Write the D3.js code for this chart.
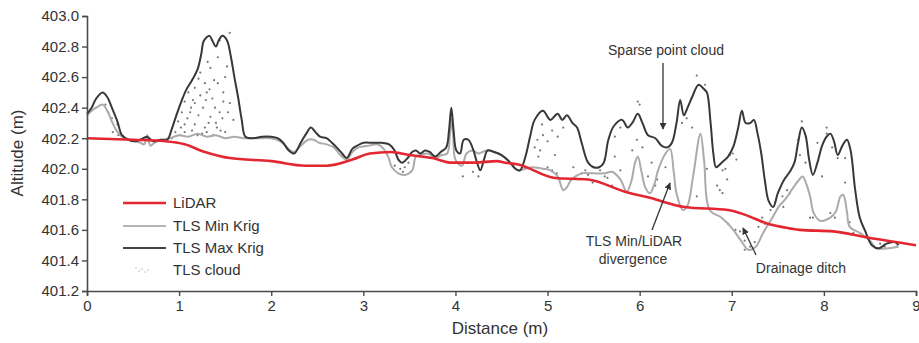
<!DOCTYPE html>
<html><head><meta charset="utf-8">
<script src="https://cdn.jsdelivr.net/npm/d3@7"></script>
<style>html,body{margin:0;padding:0;background:#fff;}svg{display:block;font-family:"Liberation Sans",Arial,sans-serif;}</style>
</head><body>
<svg id="c" width="919" height="343"></svg>
<script>
// ---------- data ----------
const xTicks = [0,1,2,3,4,5,6,7,8,9];
const yTicks = [401.2,401.4,401.6,401.8,402.0,402.2,402.4,402.6,402.8,403.0];

const lidarD = [0,0.5,0.85,1.06,1.28,1.55,2.0,2.37,2.6,2.88,3.07,3.3,3.5,3.75,3.96,4.2,4.45,4.54,4.67,5.08,5.44,5.84,6.11,6.49,6.96,7.14,7.39,7.63,7.74,8.1,8.47,9.0];
const lidarV = [402.20,402.19,402.18,402.16,402.11,402.07,402.05,402.02,402.02,402.06,402.10,402.11,402.09,402.07,402.04,402.04,402.05,402.04,402.03,401.94,401.93,401.85,401.81,401.75,401.73,401.70,401.64,401.61,401.60,401.59,401.55,401.50];

const maxD = [0,0.05,0.10,0.17,0.22,0.27,0.33,0.38,0.45,0.52,0.58,0.65,0.72,0.80,0.87,0.92,0.97,1.03,1.08,1.14,1.20,1.24,1.27,1.33,1.36,1.40,1.43,1.47,1.52,1.56,1.60,1.64,1.68,1.72,1.80,1.90,2.00,2.07,2.13,2.19,2.25,2.32,2.38,2.43,2.48,2.53,2.60,2.66,2.71,2.77,2.82,2.88,2.93,3.00,3.10,3.20,3.28,3.34,3.38,3.42,3.48,3.53,3.57,3.62,3.67,3.72,3.78,3.84,3.90,3.93,3.955,3.98,4.01,4.05,4.09,4.14,4.19,4.23,4.27,4.31,4.35,4.42,4.50,4.58,4.65,4.70,4.76,4.81,4.86,4.95,5.03,5.11,5.16,5.21,5.27,5.32,5.37,5.44,5.50,5.56,5.61,5.66,5.72,5.81,5.87,5.92,5.98,6.03,6.09,6.17,6.24,6.30,6.35,6.40,6.44,6.48,6.52,6.57,6.64,6.70,6.73,6.77,6.80,6.83,6.89,6.96,7.02,7.07,7.11,7.15,7.20,7.24,7.28,7.32,7.36,7.40,7.45,7.50,7.57,7.63,7.68,7.72,7.76,7.80,7.84,7.88,7.93,7.98,8.03,8.07,8.11,8.15,8.20,8.25,8.29,8.34,8.39,8.45,8.52,8.60,8.68,8.77,8.81];
const maxV = [402.36,402.40,402.46,402.50,402.47,402.40,402.31,402.22,402.19,402.18,402.19,402.21,402.18,402.19,402.19,402.26,402.35,402.45,402.52,402.58,402.65,402.75,402.84,402.87,402.84,402.80,402.84,402.87,402.84,402.74,402.60,402.47,402.32,402.21,402.20,402.21,402.21,402.20,402.17,402.12,402.10,402.17,402.23,402.27,402.24,402.21,402.20,402.17,402.14,402.10,402.07,402.13,402.15,402.17,402.17,402.17,402.16,402.12,402.06,402.04,402.07,402.11,402.12,402.10,402.12,402.11,402.08,402.11,402.14,402.25,402.40,402.25,402.12,402.10,402.19,402.19,402.13,402.05,401.99,402.06,402.12,402.11,402.09,402.05,402.00,401.99,402.08,402.21,402.32,402.38,402.32,402.36,402.32,402.35,402.30,402.27,402.17,402.04,402.01,402.01,402.04,402.19,402.28,402.32,402.27,402.30,402.36,402.30,402.22,402.20,402.15,402.14,402.17,402.30,402.45,402.35,402.40,402.47,402.55,402.52,402.50,402.30,402.10,402.01,402.04,402.08,402.15,402.27,402.38,402.30,402.30,402.32,402.23,402.10,401.92,401.79,401.75,401.84,401.93,401.98,402.04,402.17,402.27,402.22,402.06,401.96,402.04,402.15,402.21,402.23,402.18,402.09,402.15,402.19,402.12,401.86,401.68,401.59,401.50,401.48,401.51,401.52,401.50];

const minD = [0,0.05,0.10,0.17,0.22,0.27,0.32,0.38,0.45,0.52,0.58,0.62,0.655,0.69,0.73,0.80,0.90,1.00,1.10,1.20,1.30,1.40,1.50,1.60,1.70,1.80,1.90,2.00,2.10,2.17,2.24,2.32,2.40,2.46,2.52,2.60,2.68,2.75,2.82,2.88,2.95,3.05,3.15,3.22,3.27,3.31,3.38,3.45,3.53,3.57,3.62,3.70,3.78,3.85,3.91,3.94,3.955,3.975,4.00,4.07,4.12,4.18,4.25,4.34,4.42,4.50,4.58,4.68,4.76,4.83,4.95,5.03,5.11,5.17,5.21,5.26,5.37,5.50,5.62,5.70,5.79,5.86,5.91,5.95,5.98,6.02,6.06,6.11,6.16,6.20,6.28,6.33,6.37,6.40,6.47,6.52,6.58,6.66,6.70,6.76,6.89,6.99,7.10,7.18,7.26,7.34,7.44,7.52,7.58,7.66,7.72,7.77,7.81,7.85,7.89,7.96,8.07,8.13,8.18,8.21,8.25,8.28,8.39,8.50,8.57,8.70,8.81];
const minV = [402.35,402.38,402.40,402.42,402.38,402.31,402.25,402.21,402.19,402.18,402.17,402.16,402.22,402.15,402.17,402.19,402.20,402.22,402.21,402.23,402.21,402.22,402.20,402.21,402.20,402.20,402.20,402.20,402.18,402.14,402.11,402.15,402.19,402.19,402.17,402.16,402.14,402.09,402.06,402.11,402.14,402.15,402.16,402.13,402.08,402.01,401.97,401.96,401.99,402.08,402.09,402.10,402.07,402.09,402.10,402.22,402.33,402.22,402.06,402.02,402.10,402.12,402.10,402.12,402.11,402.09,402.05,401.99,402.00,402.01,402.00,401.99,401.95,401.86,401.88,401.93,401.97,401.97,401.97,401.98,401.93,401.85,401.92,402.04,402.08,401.98,401.88,401.84,401.90,401.99,402.10,402.13,401.98,401.84,401.73,401.76,401.95,402.23,402.05,401.73,401.68,401.62,401.53,401.47,401.49,401.58,401.68,401.76,401.80,401.87,401.92,401.95,401.90,401.82,401.71,401.66,401.68,401.72,401.82,401.83,401.72,401.62,401.58,401.53,401.48,401.48,401.49];

const cloudD = [1.44,1.42,1.34,1.23,1.21,1.28,1.17,1.30,1.10,1.23,1.36,1.06,1.17,1.48,1.26,1.39,1.12,1.21,1.34,1.47,0.99,1.06,1.17,1.28,1.41,0.96,1.06,1.14,1.25,1.37,1.50,0.92,1.01,1.52,1.42,1.48,1.55,1.59,1.55,1.53,
  1.31,1.38,1.15,1.29,1.33,1.44,1.02,1.09,1.32,1.45,1.20,1.30,1.40,1.13,1.50,1.03,
  0.20,0.23,0.27,0.33,0.28,0.34,
  3.34,3.40,3.45,3.38,3.49,3.43,4.08,4.25,4.19,
  4.94,4.95,4.86,4.92,4.89,5.00,5.05,5.11,5.17,5.08,4.90,5.28,5.00,5.05,5.10,5.41,5.49,5.57,5.62,5.73,5.73,5.79,5.98,5.97,6.03,5.92,5.79,5.62,5.49,5.37,5.44,5.65,5.70,5.84,6.00,
  6.09,6.13,6.19,6.17,6.28,6.46,6.51,6.57,6.62,6.71,6.73,6.62,6.84,6.87,6.90,6.93,6.98,6.95,6.90,7.01,7.05,
  6.96,7.04,7.09,7.14,7.25,7.29,7.36,7.33,7.42,7.47,7.55,7.60,7.56,7.63,7.14,7.20,
  7.76,7.72,7.74,7.80,7.93,8.03,8.03,7.98,8.09,8.15,8.23,8.23,8.07,8.12,7.88,7.85,8.28,8.32,8.61,8.66,8.75,8.79];
const cloudV = [402.84,402.73,402.66,402.63,402.59,402.56,402.53,402.50,402.50,402.48,402.46,402.44,402.43,402.44,402.40,402.40,402.37,402.35,402.34,402.33,402.31,402.29,402.29,402.27,402.27,402.24,402.24,402.25,402.23,402.22,402.24,402.20,402.22,402.67,402.56,402.50,402.43,402.32,402.89,402.37,
  402.70,402.58,402.45,402.45,402.52,402.37,402.27,402.33,402.30,402.25,402.22,402.24,402.30,402.40,402.60,402.37,
  402.42,402.37,402.33,402.29,402.24,402.22,
  402.02,402.00,402.01,402.06,402.04,401.98,401.95,401.95,401.98,
  402.29,402.22,402.14,402.12,402.19,402.18,402.25,402.21,402.27,402.09,402.08,402.01,402.01,401.99,401.97,401.99,402.01,401.99,402.06,402.08,402.21,402.27,402.44,402.19,402.14,402.12,401.99,401.95,401.91,401.97,401.96,401.94,401.89,401.85,402.42,
  401.95,402.04,401.93,401.89,402.01,402.30,402.33,402.27,402.61,402.55,402.00,401.82,401.89,401.86,401.99,402.00,402.09,401.93,401.84,402.10,402.06,
  401.64,401.60,401.59,401.53,401.52,401.62,401.64,401.68,401.73,401.78,401.82,401.86,401.75,401.84,401.47,401.49,
  402.31,402.19,402.09,402.04,402.17,402.27,402.23,401.95,402.14,402.07,402.07,401.91,401.71,401.68,401.68,401.68,401.65,401.58,401.51,401.49,401.52,401.49];

const legendLabels = ["LiDAR","TLS Min Krig","TLS Max Krig","TLS cloud"];

// ---------- chart ----------
const svg = d3.select("#c");
const x = d3.scaleLinear().domain([0,9]).range([87,916]);
const y = d3.scaleLinear().domain([401.2,403.0]).range([291,16]);
const axisColor = "#4a4a4a", textColor = "#333";

const zip = (a,b) => a.map((d,i)=>[d,b[i]]);
const line = d3.line().x(d=>x(d[0])).y(d=>y(d[1])).curve(d3.curveCatmullRom.alpha(0.5));
const smooth = d3.line().x(d=>x(d[0])).y(d=>y(d[1])).curve(d3.curveMonotoneX);

// cloud
svg.append("g").selectAll("circle").data(zip(cloudD,cloudV)).join("circle")
  .attr("cx",d=>x(d[0])).attr("cy",d=>y(d[1])).attr("r",1.1).attr("fill","#777");

svg.append("path").attr("d",line(zip(minD,minV))).attr("fill","none").attr("stroke","#ababab").attr("stroke-width",2);
svg.append("path").attr("d",line(zip(maxD,maxV))).attr("fill","none").attr("stroke","#383838").attr("stroke-width",2);
svg.append("path").attr("d",smooth(zip(lidarD,lidarV))).attr("fill","none").attr("stroke","#e3262f").attr("stroke-width",2.6);

// axes
const gx = svg.append("g").attr("transform","translate(0,291)")
  .call(d3.axisBottom(x).tickValues(xTicks).tickFormat(d3.format("d")).tickSize(5).tickPadding(4));
const gy = svg.append("g").attr("transform","translate(87,0)")
  .call(d3.axisLeft(y).tickValues(yTicks).tickFormat(d3.format(".1f")).tickSize(5).tickPadding(3));
[gx,gy].forEach(g=>{
  g.select(".domain").attr("stroke",axisColor).attr("stroke-width",1.6);
  g.selectAll(".tick line").attr("stroke",axisColor).attr("stroke-width",1.4);
  g.selectAll(".tick text").attr("fill",textColor).style("font-size","15px").style("font-family","'Liberation Sans',Arial,sans-serif");
});
gx.selectAll(".tick text").filter(d=>d===9).attr("text-anchor","end").attr("dx","4");

svg.append("text").attr("x",500).attr("y",334).attr("text-anchor","middle")
  .attr("fill",textColor).style("font-size","17px").text("Distance (m)");
svg.append("text").attr("transform","translate(23,153) rotate(-90)").attr("text-anchor","middle")
  .attr("fill",textColor).style("font-size","17px").text("Altitude (m)");

// legend
const lg = svg.append("g");
const lgY = [203,226,248,270];
const lgStroke = ["#e3262f","#b5b5b5","#444"];
lgY.forEach((yy,i)=>{
  if(i<3){
    lg.append("line").attr("x1",123).attr("x2",166).attr("y1",yy).attr("y2",yy)
      .attr("stroke",lgStroke[i]).attr("stroke-width",i===0?2.4:1.8);
  } else {
    [[136,268],[139,271],[142,269],[145,272],[148,270]].forEach(p=>
      lg.append("circle").attr("cx",p[0]).attr("cy",p[1]).attr("r",0.8).attr("fill","#bbb"));
  }
  lg.append("text").attr("x",173).attr("y",yy+5).attr("fill",textColor)
    .style("font-size","15px").text(legendLabels[i]);
});

// annotations
const defs = svg.append("defs");
defs.append("marker").attr("id","ah").attr("viewBox","0 0 10 10").attr("refX",9).attr("refY",5)
  .attr("markerWidth",7).attr("markerHeight",7).attr("orient","auto").attr("markerUnits","userSpaceOnUse")
  .append("path").attr("d","M0,0 L10,5 L0,10 z").attr("fill","#333");
const ann = svg.append("g").attr("fill",textColor).style("font-size","14px");
ann.append("text").attr("x",666).attr("y",55).attr("text-anchor","middle").text("Sparse point cloud");
svg.append("line").attr("x1",663).attr("y1",63).attr("x2",663).attr("y2",129).attr("stroke","#333").attr("stroke-width",1.3).attr("marker-end","url(#ah)");
ann.append("text").attr("x",634).attr("y",246).attr("text-anchor","middle").text("TLS Min/LiDAR");
ann.append("text").attr("x",633).attr("y",264).attr("text-anchor","middle").text("divergence");
svg.append("line").attr("x1",652).attr("y1",230).attr("x2",670).attr("y2",183).attr("stroke","#333").attr("stroke-width",1.3).attr("marker-end","url(#ah)");
ann.append("text").attr("x",801).attr("y",273).attr("text-anchor","middle").text("Drainage ditch");
svg.append("line").attr("x1",756).attr("y1",255).attr("x2",743).attr("y2",228).attr("stroke","#333").attr("stroke-width",1.3).attr("marker-end","url(#ah)");
</script>
</body></html>
